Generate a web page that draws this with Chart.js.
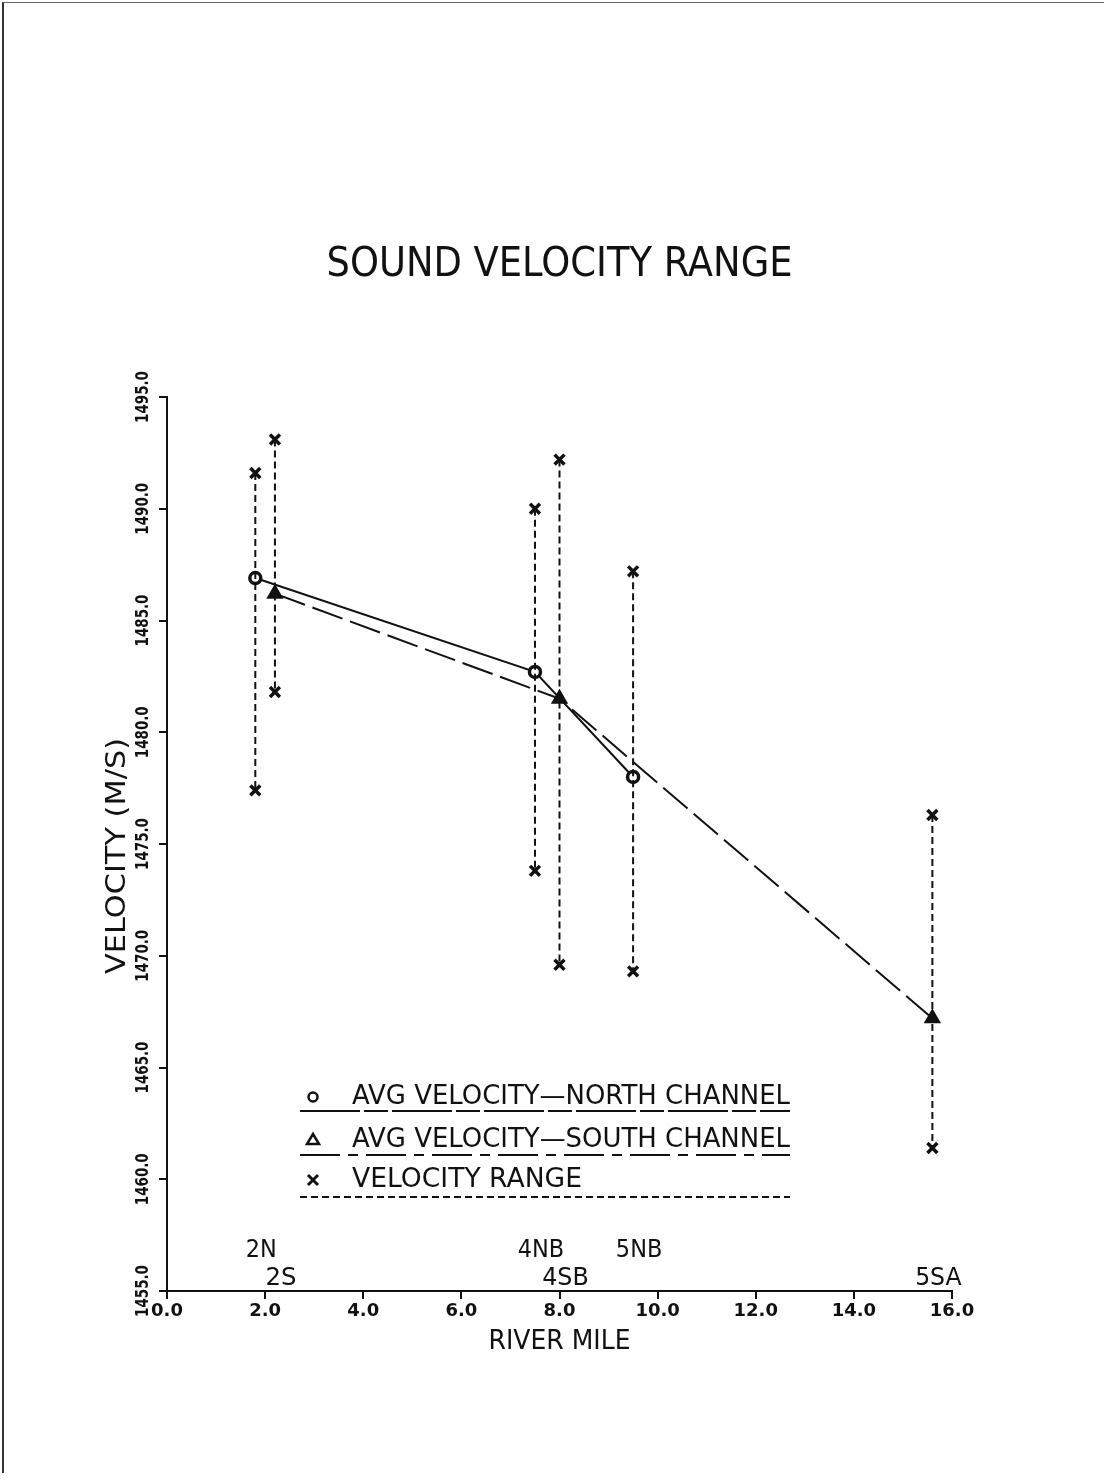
<!DOCTYPE html>
<html>
<head>
<meta charset="utf-8">
<title>Sound Velocity Range</title>
<script src="https://cdn.jsdelivr.net/npm/chart.js"></script>
<style>
  html, body { margin: 0; padding: 0; background: #fff; }
  #wrap { position: relative; width: 1104px; height: 1483px; }
  #frame { position: absolute; left: 2px; top: 2px; width: 1100px; height: 1470px;
           border-left: 2px solid #333; border-top: 1px solid #666; pointer-events: none; }
</style>
</head>
<body>
<div id="wrap">
  <canvas id="chart"></canvas>
  <div id="frame"></div>
</div>
<script>
// Station data
const stations = ['2N', '2S', '4NB', '4SB', '5NB', '5SA'];
const riverMile = [1.8, 2.2, 7.5, 8.0, 9.5, 15.6];
const channel = ['N', 'S', 'N', 'S', 'N', 'S'];
const avgVelocity = [1486.9, 1486.2, 1482.7, 1481.5, 1478.0, 1467.2];
const maxVelocity = [1491.6, 1493.1, 1490.0, 1492.2, 1487.2, 1476.3];
const minVelocity = [1477.4, 1481.8, 1473.8, 1469.6, 1469.3, 1461.4];

const xTicks = [0, 2, 4, 6, 8, 10, 12, 14, 16];
const yTicks = [1455, 1460, 1465, 1470, 1475, 1480, 1485, 1490, 1495];

const legendLabels = ['AVG VELOCITY\u2014NORTH CHANNEL', 'AVG VELOCITY\u2014SOUTH CHANNEL', 'VELOCITY RANGE'];

const INK = '#111';
const FONT = '"DejaVu Sans", sans-serif';

// build datasets from the arrays
const north = [];
const south = [];
riverMile.forEach((m, i) => {
  const p = { x: m, y: avgVelocity[i] };
  if (channel[i] === 'N') north.push(p); else south.push(p);
});
const range = [];
riverMile.forEach((m, i) => {
  range.push({ x: m, y: maxVelocity[i] });
  range.push({ x: m, y: minVelocity[i] });
  range.push({ x: m, y: null });
});

// draw text stretched or squeezed to a given width (plotter lettering)
function fitText(ctx, text, x, y, width, align) {
  const w = ctx.measureText(text).width;
  const k = width / w;
  ctx.save();
  ctx.translate(x, y);
  ctx.scale(k, 1);
  ctx.textAlign = align || 'center';
  ctx.fillText(text, 0, 0);
  ctx.restore();
}

// texts, y tick labels, station names and legend drawn on top
const overlay = {
  id: 'overlay',
  afterDraw(chart) {
    const ctx = chart.ctx;
    const xs = chart.scales.x;
    const ys = chart.scales.y;
    const midX = (xs.left + xs.right) / 2;
    ctx.save();
    ctx.fillStyle = INK;
    ctx.strokeStyle = INK;
    ctx.textBaseline = 'middle';

    // title
    ctx.font = '40px ' + FONT;
    fitText(ctx, 'SOUND VELOCITY RANGE', midX, 266, 466);

    // y tick labels, rotated
    ctx.font = 'bold 18px ' + FONT;
    yTicks.forEach(v => {
      const py = ys.getPixelForValue(v);
      ctx.save();
      ctx.translate(ys.right - 24, py);
      ctx.rotate(-Math.PI / 2);
      fitText(ctx, v.toFixed(1), 0, 0, 52);
      ctx.restore();
    });

    // y title
    ctx.save();
    ctx.translate(118, (ys.top + ys.bottom) / 2 + 12);
    ctx.rotate(-Math.PI / 2);
    ctx.font = '26px ' + FONT;
    fitText(ctx, 'VELOCITY (M/S)', 0, 0, 236);
    ctx.restore();

    // x title
    ctx.font = '26px ' + FONT;
    fitText(ctx, 'RIVER MILE', midX, 1342, 142);

    // station names above the x axis
    ctx.font = '25px ' + FONT;
    stations.forEach((s, i) => {
      const px = xs.getPixelForValue(riverMile[i]) + 6;
      const py = ys.bottom - (channel[i] === 'N' ? 41 : 13);
      fitText(ctx, s, px, py, s.length * 15.5);
    });

    // legend
    const rows = [1097, 1140, 1180];
    const lines = [1111, 1155, 1197];
    const widths = [438, 438, 230];
    const dashes = [[60, 4, 24, 4], [40, 8, 10, 8], [7, 4]];
    ctx.font = '27px ' + FONT;
    legendLabels.forEach((t, i) => {
      fitText(ctx, t, 352, rows[i], widths[i], 'left');
      ctx.lineWidth = 2;
      ctx.setLineDash(dashes[i]);
      ctx.beginPath();
      ctx.moveTo(300, lines[i]);
      ctx.lineTo(790, lines[i]);
      ctx.stroke();
    });
    ctx.setLineDash([]);
    // legend markers
    ctx.lineWidth = 2.5;
    ctx.beginPath();
    ctx.arc(313, rows[0], 4.5, 0, Math.PI * 2);
    ctx.stroke();
    ctx.beginPath();
    ctx.moveTo(313, rows[1] - 6);
    ctx.lineTo(319, rows[1] + 4);
    ctx.lineTo(307, rows[1] + 4);
    ctx.closePath();
    ctx.stroke();
    ctx.lineWidth = 3;
    ctx.beginPath();
    ctx.moveTo(308, rows[2] - 5);
    ctx.lineTo(318, rows[2] + 5);
    ctx.moveTo(318, rows[2] - 5);
    ctx.lineTo(308, rows[2] + 5);
    ctx.stroke();
    ctx.restore();
  }
};

const ctx = document.getElementById('chart').getContext('2d');
new Chart(ctx, {
  type: 'line',
  data: {
    datasets: [
      {
        label: legendLabels[2],
        data: range,
        borderColor: INK,
        borderWidth: 2,
        borderDash: [7, 4],
        spanGaps: false,
        pointStyle: 'crossRot',
        pointRadius: 7,
        pointBorderWidth: 3.5,
        pointBorderColor: INK,
        tension: 0
      },
      {
        label: legendLabels[0],
        data: north,
        borderColor: INK,
        borderWidth: 2,
        pointStyle: 'circle',
        pointRadius: 5.5,
        pointBorderWidth: 3.5,
        pointBackgroundColor: '#fff',
        pointBorderColor: INK,
        tension: 0
      },
      {
        label: legendLabels[1],
        data: south,
        borderColor: INK,
        borderWidth: 2,
        borderDash: [32, 8],
        pointStyle: 'triangle',
        pointRadius: 8,
        pointBackgroundColor: INK,
        pointBorderColor: INK,
        tension: 0
      }
    ]
  },
  options: {
    responsive: true,
    maintainAspectRatio: false,
    animation: false,
    layout: { padding: { left: 155, right: 152, top: 397, bottom: 147 } },
    plugins: {
      legend: { display: false },
      title: { display: false },
      tooltip: { enabled: false }
    },
    scales: {
      x: {
        type: 'linear',
        min: 0,
        max: 16,
        afterBuildTicks: s => { s.ticks = xTicks.map(v => ({ value: v })); },
        afterFit: s => { s.height = 45; },
        ticks: {
          callback: v => Number(v).toFixed(1),
          font: { family: FONT, size: 18, weight: 'bold' },
          color: INK,
          padding: 2,
          maxRotation: 0
        },
        grid: { drawOnChartArea: false, tickLength: 8, color: INK, lineWidth: 2 },
        border: { color: INK, width: 2 }
      },
      y: {
        type: 'linear',
        min: 1455,
        max: 1495,
        afterBuildTicks: s => { s.ticks = yTicks.map(v => ({ value: v })); },
        afterFit: s => { s.width = 12; },
        ticks: { display: false },
        grid: { drawOnChartArea: false, tickLength: 8, color: INK, lineWidth: 2 },
        border: { color: INK, width: 2, dash: [14, 3] }
      }
    }
  },
  plugins: [overlay]
});
</script>
</body>
</html>
